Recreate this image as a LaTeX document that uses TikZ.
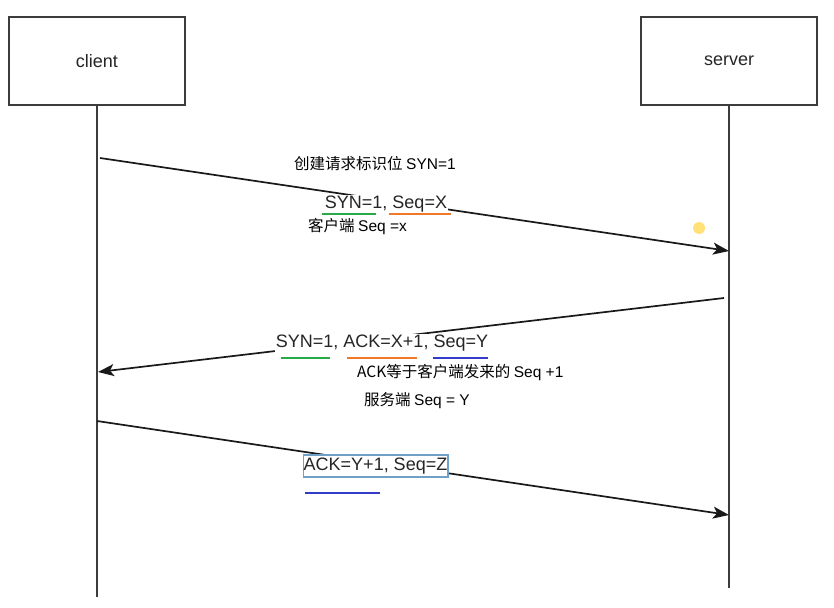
\documentclass[tikz,border=0pt]{standalone}
\usepackage{fontspec}
\setmainfont{Liberation Sans}
\newfontfamily\cjk{Noto Sans CJK SC}
\usetikzlibrary{arrows.meta}
\definecolor{lifegray}{RGB}{60,60,60}
\definecolor{ugreen}{RGB}{40,170,70}
\definecolor{uorange}{RGB}{240,120,40}
\definecolor{ublue}{RGB}{50,60,200}
\definecolor{boxblue}{RGB}{110,160,200}
\definecolor{dotyellow}{RGB}{255,225,120}
\tikzset{
  actor/.style={draw=lifegray, line width=1.8pt, minimum width=176pt, minimum height=88pt, inner sep=0pt, text=black!85, font=\fontsize{18}{18}\selectfont},
  life/.style={draw=lifegray, line width=1.8pt},
  msg/.style={draw=black!90, line width=1.7pt, -{Stealth[length=16pt,width=12pt,inset=4pt]}},
  mlabel/.style={fill=white, inner sep=1pt, font=\fontsize{18}{18}\selectfont, text=black!85},
  note/.style={inner sep=0pt, anchor=west, font=\fontsize{15.5}{15.5}\selectfont},
  uline/.style={line width=2.2pt},
}
\begin{document}
\begin{tikzpicture}[x=1pt,y=-1pt]
\useasboundingbox[fill=white] (0,0) rectangle (834,607);
\node[actor] (client) at (97,61) {client};
\node[actor] (server) at (729,61) {server};
\coordinate (cend) at (97,597);
\coordinate (send) at (729,588);
\draw[life] (client.south) -- (cend);
\draw[life] (server.south) -- (send);
% message 1
\coordinate (m1s) at (100,158);
\coordinate (m1e) at (729,251);
\draw[msg] (m1s) -- (m1e);
\node[mlabel] (l1) at (386,204) {SYN=1, Seq=X};
\draw[uline, ugreen] (322,214) -- (376,214);
\draw[uline, uorange] (389,214) -- (451,214);
\node[note] (n1) at (294,164) {\cjk 创建请求标识位\ \rmfamily SYN=1};
\node[note] (n2) at (308,227) {\cjk 客户端\ \rmfamily Seq =x};
% message 2
\coordinate (m2s) at (724,298);
\coordinate (m2e) at (98,372);
\draw[msg] (m2s) -- (m2e);
\node[mlabel] (l2) at (382,343) {SYN=1, ACK=X+1, Seq=Y};
\draw[uline, ugreen] (281,358) -- (330,358);
\draw[uline, uorange] (347,358) -- (417,358);
\draw[uline, ublue] (433,358) -- (488,358);
\node[note] (n3) at (357,373) {\cjk ACK等于客户端发来的\ \rmfamily Seq +1};
\node[note] (n4) at (364,401) {\cjk 服务端\ \rmfamily Seq = Y};
% message 3
\coordinate (m3s) at (97,421);
\coordinate (m3e) at (729,515);
\draw[msg] (m3s) -- (m3e);
\node[mlabel, draw=boxblue, line width=1.4pt, inner sep=0.5pt, minimum height=22pt, minimum width=141pt] (l3) at (375.5,466) {ACK=Y+1, Seq=Z};
\draw[uline, ublue] (305,493) -- (380,493);
% dot
\fill[dotyellow] (699,228) circle (6);
\end{tikzpicture}
\end{document}
